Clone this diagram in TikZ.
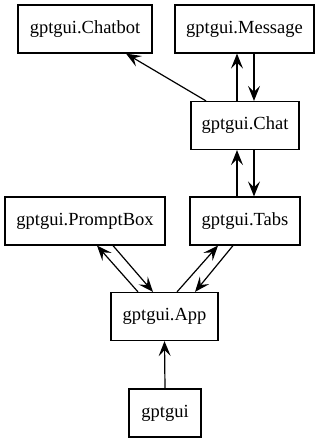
\documentclass[tikz,border=0pt]{standalone}
\usepackage{fontspec}
\setmainfont{Liberation Serif}
\usetikzlibrary{arrows.meta}
\begin{document}
\begin{tikzpicture}[x=1pt,y=-1pt,
  module/.style={draw,line width=1.2pt,minimum height=48pt,inner sep=0pt,
    font=\fontsize{18.5}{22}\selectfont},
  dep/.style={line width=1.2pt,-{Stealth[length=15pt,width=12pt,inset=6pt]}}]
\useasboundingbox (0,0) rectangle (320,443);
% modules
\node[module,minimum width=134pt] (chatbot) at (85,29) {gptgui.Chatbot};
\node[module,minimum width=139pt] (message) at (244.5,29) {gptgui.Message};
\node[module,minimum width=108pt] (chat) at (245,125.5) {gptgui.Chat};
\node[module,minimum width=160pt] (prompt) at (85,221) {gptgui.PromptBox};
\node[module,minimum width=110pt] (tabs) at (245,221) {gptgui.Tabs};
\node[module,minimum width=107pt] (app) at (164.5,316.5) {gptgui.App};
\node[module,minimum width=72pt] (pkg) at (165,413) {gptgui};
% imports
\draw[dep] ([xshift=-39pt]chat.north) -- ([xshift=41pt]chatbot.south);
\draw[dep] ([xshift=-8pt]chat.north) -- ([xshift=-7.5pt]message.south);
\draw[dep] ([xshift=9.5pt]message.south) -- ([xshift=9pt]chat.north);
\draw[dep] ([xshift=-8pt]tabs.north) -- ([xshift=-8pt]chat.south);
\draw[dep] ([xshift=9pt]chat.south) -- ([xshift=9pt]tabs.north);
\draw[dep] ([xshift=-26.5pt]app.north) -- ([xshift=12pt]prompt.south);
\draw[dep] ([xshift=28pt]prompt.south) -- ([xshift=-11.5pt]app.north);
\draw[dep] ([xshift=12.5pt]app.north) -- ([xshift=-27pt]tabs.south);
\draw[dep] ([xshift=-12pt]tabs.south) -- ([xshift=30.5pt]app.north);
\draw[dep] (pkg.north) -- (app.south);
\end{tikzpicture}
\end{document}
